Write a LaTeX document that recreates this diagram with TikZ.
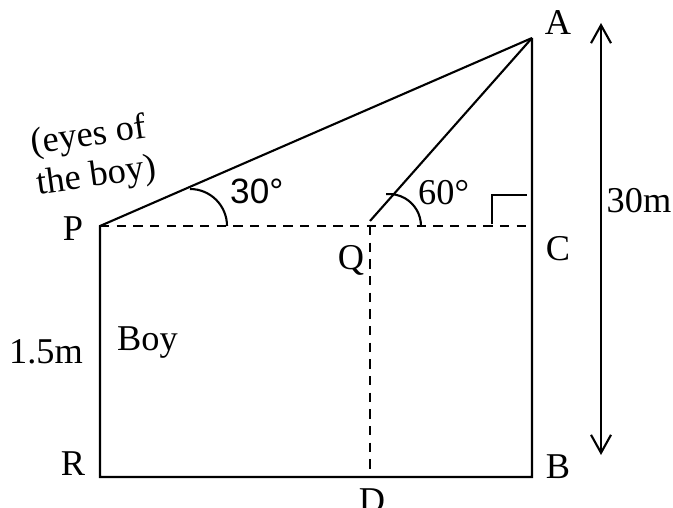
\documentclass[tikz,border=0pt]{standalone}
\usepackage{fontspec}
\setmainfont{Liberation Serif}
\newfontfamily\anglefont{Liberation Sans}
\usepackage{tikz}
\usetikzlibrary{arrows.meta,positioning,calc}

\begin{document}
\begin{tikzpicture}[x=0.03cm, y=-0.03cm,
  edge/.style={line width=1.8pt, line join=miter},
  hidden/.style={line width=1.8pt, dash pattern=on 0.28cm off 0.22cm},
  lbl/.style={inner sep=0pt, anchor=base, font=\fontsize{31}{36}\selectfont},
  dim/.style={{Straight Barb[length=0.54cm,width=0.6cm]}-{Straight Barb[length=0.54cm,width=0.6cm]}, line width=1.8pt}
]
\useasboundingbox (0,0) rectangle (673,508);

% points of the figure
\coordinate (A) at (532,38);
\coordinate (P) at (100,226);
\coordinate (C) at (532,226);
\coordinate (R) at (100,477);
\coordinate (B) at (532,477);
\coordinate (Q) at (370,226);
\coordinate (Qtop) at (370,221);
\coordinate (D) at (370,473);
\coordinate (htop) at (601,23);
\coordinate (hbot) at (601,455);

% labels
\node[lbl] (lA) at (558,35) {A};
\node[lbl] (lC) at (558,260) {C};
\node[lbl] (lB) at (558,478) {B};
\node[lbl] (lR) at (73,475) {R};
\node[lbl] (lP) at (73,240) {P};
\node[lbl] (lQ) at (351,269) {Q};
\node[lbl] (lD) at (372,512) {D};
\node[lbl] (lh) at (639,212) {30m};
\node[lbl] (lpr) at (46,363) {1.5m};
\node[lbl, anchor=base west] (boy) at (117,350) {Boy};
\node[lbl, anchor=center, align=left, rotate=8, font=\fontsize{31}{35}\selectfont] (eyes) at (94,157) {(eyes of\\the boy)};
\node[lbl, anchor=base west, font=\anglefont\fontsize{30}{36}\selectfont] (a30) at (230,203) {30°};
\node[lbl, anchor=base west] (a60) at (418,204) {60°};

% outline
\draw[edge] (A) -- (P) -- (R) -- (B) -- (A);
\draw[edge] (Qtop) -- (A);
\draw[hidden] (P) -- (C);
\draw[hidden] (Q) -- (D);
\draw[dim] (htop) -- (hbot);

% angle marks
\draw[edge] (227,226) arc[start angle=0, end angle=-90, radius=37];
\draw[edge] (421,226) arc[start angle=0, end angle=-95, radius=32];
\draw[edge] (492,224) |- (527,195);
\end{tikzpicture}
\end{document}
